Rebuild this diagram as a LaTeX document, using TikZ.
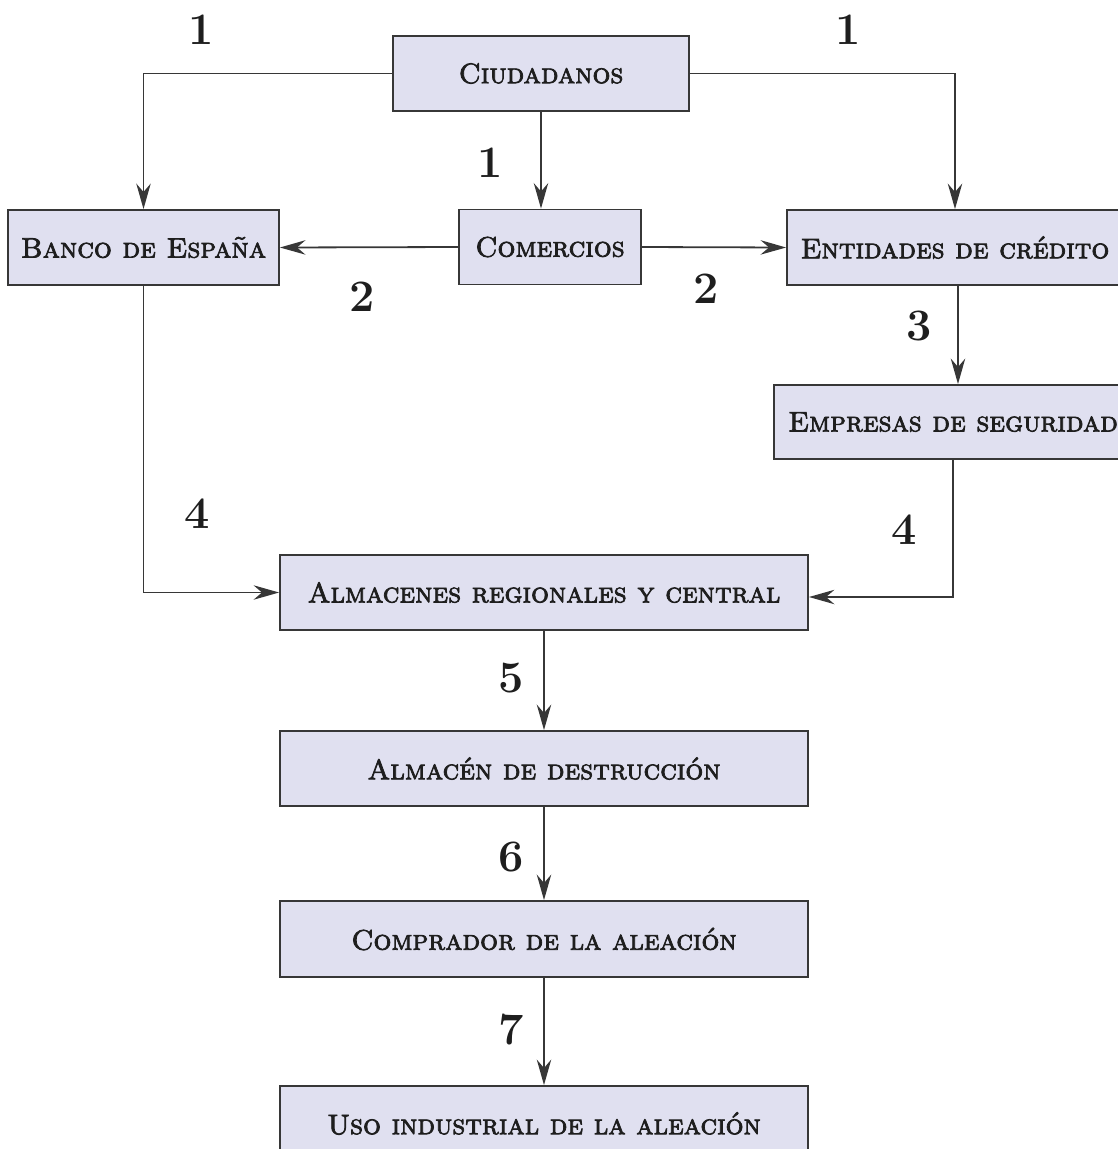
\documentclass[tikz,border=0pt]{standalone}
\usetikzlibrary{arrows.meta}
\newcommand\heavytext[1]{\special{pdf:literal direct 2 Tr 0.25 w}#1\special{pdf:literal direct 0 Tr}}
\definecolor{boxfill}{RGB}{224,224,240}
\definecolor{boxline}{RGB}{55,55,55}
\definecolor{arrowline}{RGB}{55,55,55}
\definecolor{txt}{RGB}{30,30,30}
\begin{document}
\begin{tikzpicture}[x=0.3333pt,y=-0.3333pt,
  box/.style={draw=boxline,fill=boxfill,line width=0.6pt,inner sep=0pt,text=txt,font=\fontsize{9.4}{11}\selectfont\scshape},
  sz/.style 2 args={minimum width=#1*0.3333pt,minimum height=#2*0.3333pt},
  arr/.style={draw=arrowline,line width=0.6pt,-{Stealth[length=8.5pt,width=4.8pt,inset=2.8pt]}},
  num/.style={font=\fontsize{15}{18}\selectfont\bfseries,text=txt,inner sep=0pt}]
\useasboundingbox (0,0) rectangle (1118,1149);
\clip (0,0) rectangle (1118,1149);
% boxes
\node[box,sz={296}{75}] (ciud) at (541,73.5) {\heavytext{Ciudadanos}};
\node[box,sz={182}{75}] (com) at (550,247) {\heavytext{Comercios}};
\node[box,sz={271}{75}] (banco) at (143.5,247.5) {\heavytext{Banco de España}};
\node[box,sz={336}{75}] (ent) at (955,247.5) {\heavytext{Entidades de crédito}};
\node[box,sz={358}{74}] (emp) at (953,422) {\heavytext{Empresas de seguridad}};
\node[box,sz={528}{75}] (alm) at (544,592.5) {\heavytext{Almacenes regionales y central}};
\node[box,sz={528}{75}] (des) at (544,768.5) {\heavytext{Almacén de destrucción}};
\node[box,sz={528}{76}] (comp) at (544,939) {\heavytext{Comprador de la aleación}};
\node[box,sz={528}{75}] (uso) at (544,1123.5) {\heavytext{Uso industrial de la aleación}};
% connectors
\draw[arr] (ciud.west) -| (banco.north);
\draw[arr] (ciud.east) -| (ent.north);
\draw[arr] (ciud.south) -- (ciud.south |- com.north);
\draw[arr] (com.west) -- (banco.east);
\draw[arr] (com.east) -- (ent.west);
\draw[arr] ([xshift=1pt]ent.south) -- ([xshift=1pt]ent.south |- emp.north);
\draw[arr] (banco.south) |- (alm.west);
\draw[arr] (emp.south) |- ([yshift=-1.5pt]alm.east);
\draw[arr] (alm.south) -- (des.north);
\draw[arr] (des.south) -- (comp.north);
\draw[arr] (comp.south) -- (uso.north);
% step numbers
\node[num] (n1a) at (201,30) {1};
\node[num] (n1b) at (848,30) {1};
\node[num] (n1c) at (490,163) {1};
\node[num] (n2a) at (362,297) {2};
\node[num] (n2b) at (706,289) {2};
\node[num] (n3) at (919,326) {3};
\node[num] (n4a) at (197,514) {4};
\node[num] (n4b) at (904,530) {4};
\node[num] (n5) at (511,678) {5};
\node[num] (n6) at (511,857) {6};
\node[num] (n7) at (511,1030) {7};
\end{tikzpicture}
\end{document}
